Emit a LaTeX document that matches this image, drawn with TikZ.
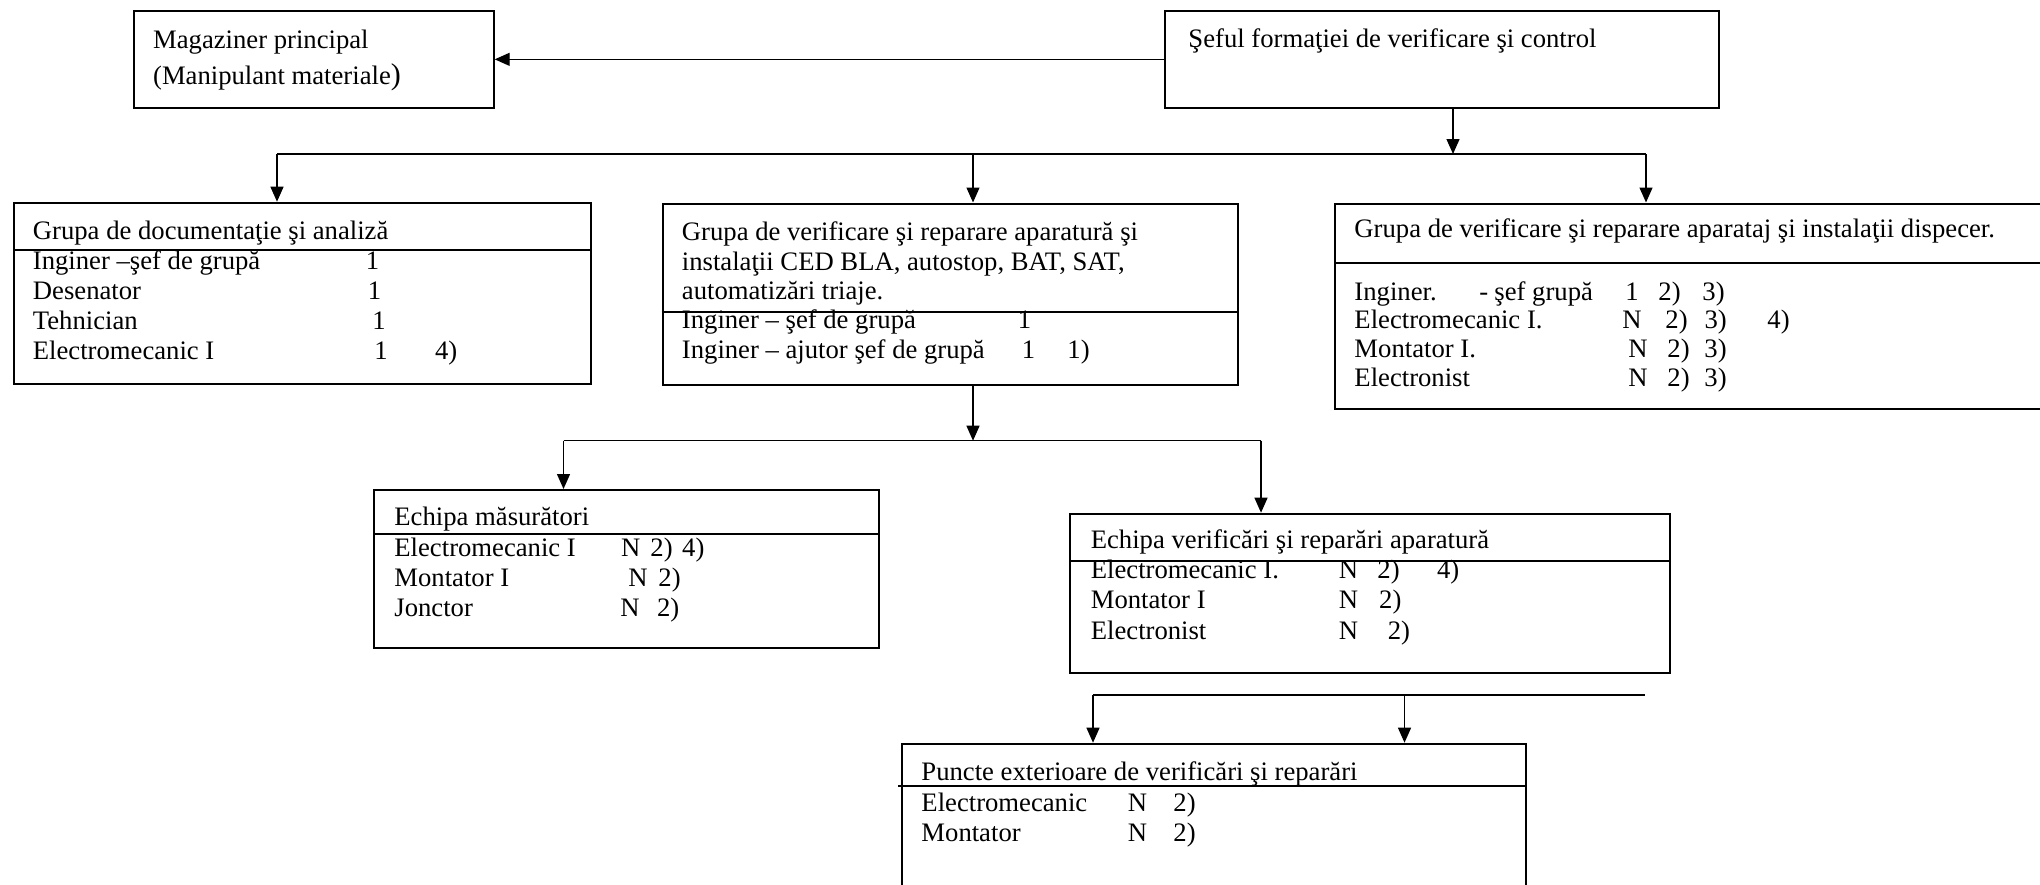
\documentclass[tikz,border=0pt]{standalone}
\usepackage{fontspec}
\setmainfont{Liberation Serif}
\usetikzlibrary{positioning,calc}
\usetikzlibrary{arrows.meta}

\newdimen\pxdim \pxdim=0.45pt
\newcommand{\colbox}[2]{\makebox[#1\pxdim][l]{#2}}
\newcommand{\boxlines}[1]{\begin{tabular}[t]{@{}l@{}}#1\end{tabular}}

\tikzset{
  box/.style={draw, rectangle, line width=0.9pt, inner sep=0pt, anchor=north west},
  rule/.style={line width=0.9pt},
  txt/.style={inner sep=0pt, anchor=base west,
              font=\fontsize{12}{13.5}\selectfont},
  conn/.style={line width=0.6pt, -{Triangle[length=6.75pt,width=5.85pt]}},
  bus/.style={line width=0.6pt}
}

\begin{document}
\begin{tikzpicture}[x=0.45pt,y=-0.45pt]
   \useasboundingbox (0,0) rectangle (2040,884);

   % top row
   \node[box, minimum width=360\pxdim, minimum height=96.7\pxdim] (mag) at (132.7,10) {};
   \node[box, minimum width=554\pxdim, minimum height=96.7\pxdim] (sef) at (1164.4,10) {};
   \node[txt, font=\fontsize{12}{16}\selectfont] (magt) at (152.7,48.5)
      {\boxlines{Magaziner principal\\(Manipulant materiale{\fontsize{13.5}{13.5}\selectfont)}}};
   \node[txt] (seft) at (1188,48) {Şeful formaţiei de verificare şi control};

   % groups
   \node[box, minimum width=576.5\pxdim, minimum height=181.6\pxdim] (g1) at (13,201.7) {};
   \node[box, minimum width=575.5\pxdim, minimum height=181.5\pxdim] (g2) at (661.5,202.5) {};
   \node[box, minimum width=730\pxdim, minimum height=205\pxdim] (g3) at (1334,202.5) {};
   \draw[rule] ($(g1.north west)+(0,48.3)$) -- ($(g1.north east)+(0,48.3)$);
   \draw[rule] ($(g2.north west)+(0,109)$) -- ($(g2.north east)+(0,109)$);
   \draw[rule] ($(g3.north west)+(0,60)$) -- ($(g3.north east)+(0,60)$);

   \node[txt] (g1h) at (32.5,239) {Grupa de documentaţie şi analiză};
   \node[txt, font=\fontsize{12}{13.5}\selectfont] (g1b) at (32.5,269.5)
      {\boxlines{\colbox{333}{Inginer –şef de grupă}1\\
       \colbox{335}{Desenator}1\\
       \colbox{339.5}{Tehnician}1\\
       \colbox{341.5}{Electromecanic I}\colbox{60.6}{1}4)}};

   \node[txt, font=\fontsize{12}{13.3}\selectfont] (g2h) at (681.5,240.5)
      {\boxlines{Grupa de verificare şi reparare aparatură şi\\
       instalaţii CED BLA, autostop, BAT, SAT,\\
       automatizări triaje.}};
   \node[txt, font=\fontsize{12}{13.7}\selectfont] (g2b) at (681.5,328.5)
      {\boxlines{\colbox{336}{Inginer – şef de grupă}1\\
       \colbox{340}{Inginer – ajutor şef de grupă}\colbox{45.5}{1}1)}};

   \node[txt] (g3h) at (1354,237.5)
      {Grupa de verificare şi reparare aparataj şi instalaţii dispecer.};
   \node[txt, font=\fontsize{12}{13}\selectfont] (g3b) at (1354,300)
      {\boxlines{\colbox{125}{Inginer.}\colbox{15}{-}\colbox{131}{şef grupă}\colbox{33}{1}\colbox{44}{2)}3)\\
       \colbox{268}{Electromecanic I.}\colbox{43}{N}\colbox{39}{2)}\colbox{63}{3)}4)\\
       \colbox{274}{Montator I.}\colbox{39}{N}\colbox{37}{2)}3)\\
       \colbox{274}{Electronist}\colbox{39}{N}\colbox{37}{2)}3)}};

   % teams
   \node[box, minimum width=504.7\pxdim, minimum height=157.7\pxdim] (e1) at (373.3,489) {};
   \node[box, minimum width=600\pxdim, minimum height=159\pxdim] (e2) at (1069,512.7) {};
   \draw[rule] ($(e1.north west)+(0,45)$) -- ($(e1.north east)+(0,45)$);
   \draw[rule] ($(e2.north west)+(0,48)$) -- ($(e2.north east)+(0,48)$);

   \node[txt] (e1h) at (394,525) {Echipa măsurători};
   \node[txt, font=\fontsize{12}{13.6}\selectfont] (e1b) at (394,556)
      {\boxlines{\colbox{226.7}{Electromecanic I}\colbox{29.3}{N}\colbox{31.7}{2)}4)\\
       \colbox{234}{Montator I}\colbox{30}{N}2)\\
       \colbox{226}{Jonctor}\colbox{36.7}{N}2)}};

   \node[txt] (e2h) at (1090.4,548) {Echipa verificări şi reparări aparatură};
   \node[txt, font=\fontsize{12}{13.7}\selectfont] (e2b) at (1090.4,578.5)
      {\boxlines{\colbox{248}{Electromecanic I.}\colbox{38.6}{N}\colbox{59.5}{2)}4)\\
       \colbox{248}{Montator I}\colbox{40.4}{N}2)\\
       \colbox{248}{Electronist}\colbox{49}{N}2)}};

   % outside points
   \node[box, minimum width=624\pxdim, minimum height=170\pxdim] (p1) at (901,742.7) {};
   \draw[rule] ($(p1.north west)+(-3,43.3)$) -- ($(p1.north east)+(-1,43.3)$);
   \node[txt] (p1h) at (921,780) {Puncte exterioare de verificări şi reparări};
   \node[txt] (p1b) at (921,811)
      {\boxlines{\colbox{206.5}{Electromecanic}\colbox{45.5}{N}2)\\
       \colbox{206.5}{Montator}\colbox{45.5}{N}2)}};

   % connectors
   \draw[conn] (sef.west) -- (mag.east);

   \coordinate (b0) at (1453,154);
   \coordinate (bl) at (277,154);
   \coordinate (bm) at (973,154);
   \coordinate (br) at (1646,154);
   \draw[conn] (b0 |- sef.south) -- (b0);
   \draw[bus] (bl) -- (br);
   \draw[conn] (bl) -- (bl |- g1.north);
   \draw[conn] (bm) -- (bm |- g2.north);
   \draw[conn] (br) -- (br |- g3.north);

   \coordinate (c0) at (973,440.7);
   \coordinate (cl) at (563.5,440.7);
   \coordinate (cr) at (1261,440.7);
   \draw[conn] (c0 |- g2.south) -- (c0);
   \draw[bus] (cl) -- (cr);
   \draw[conn] (cl) -- (cl |- e1.north);
   \draw[conn] (cr) -- (cr |- e2.north);

   \coordinate (vl) at (1093,695);
   \coordinate (vm) at (1404.5,695);
   \coordinate (vr) at (1645,695);
   \draw[bus] (vl) -- (vr);
   \draw[conn] (vl) -- (vl |- p1.north);
   \draw[conn] (vm) -- (vm |- p1.north);
\end{tikzpicture}
\end{document}
